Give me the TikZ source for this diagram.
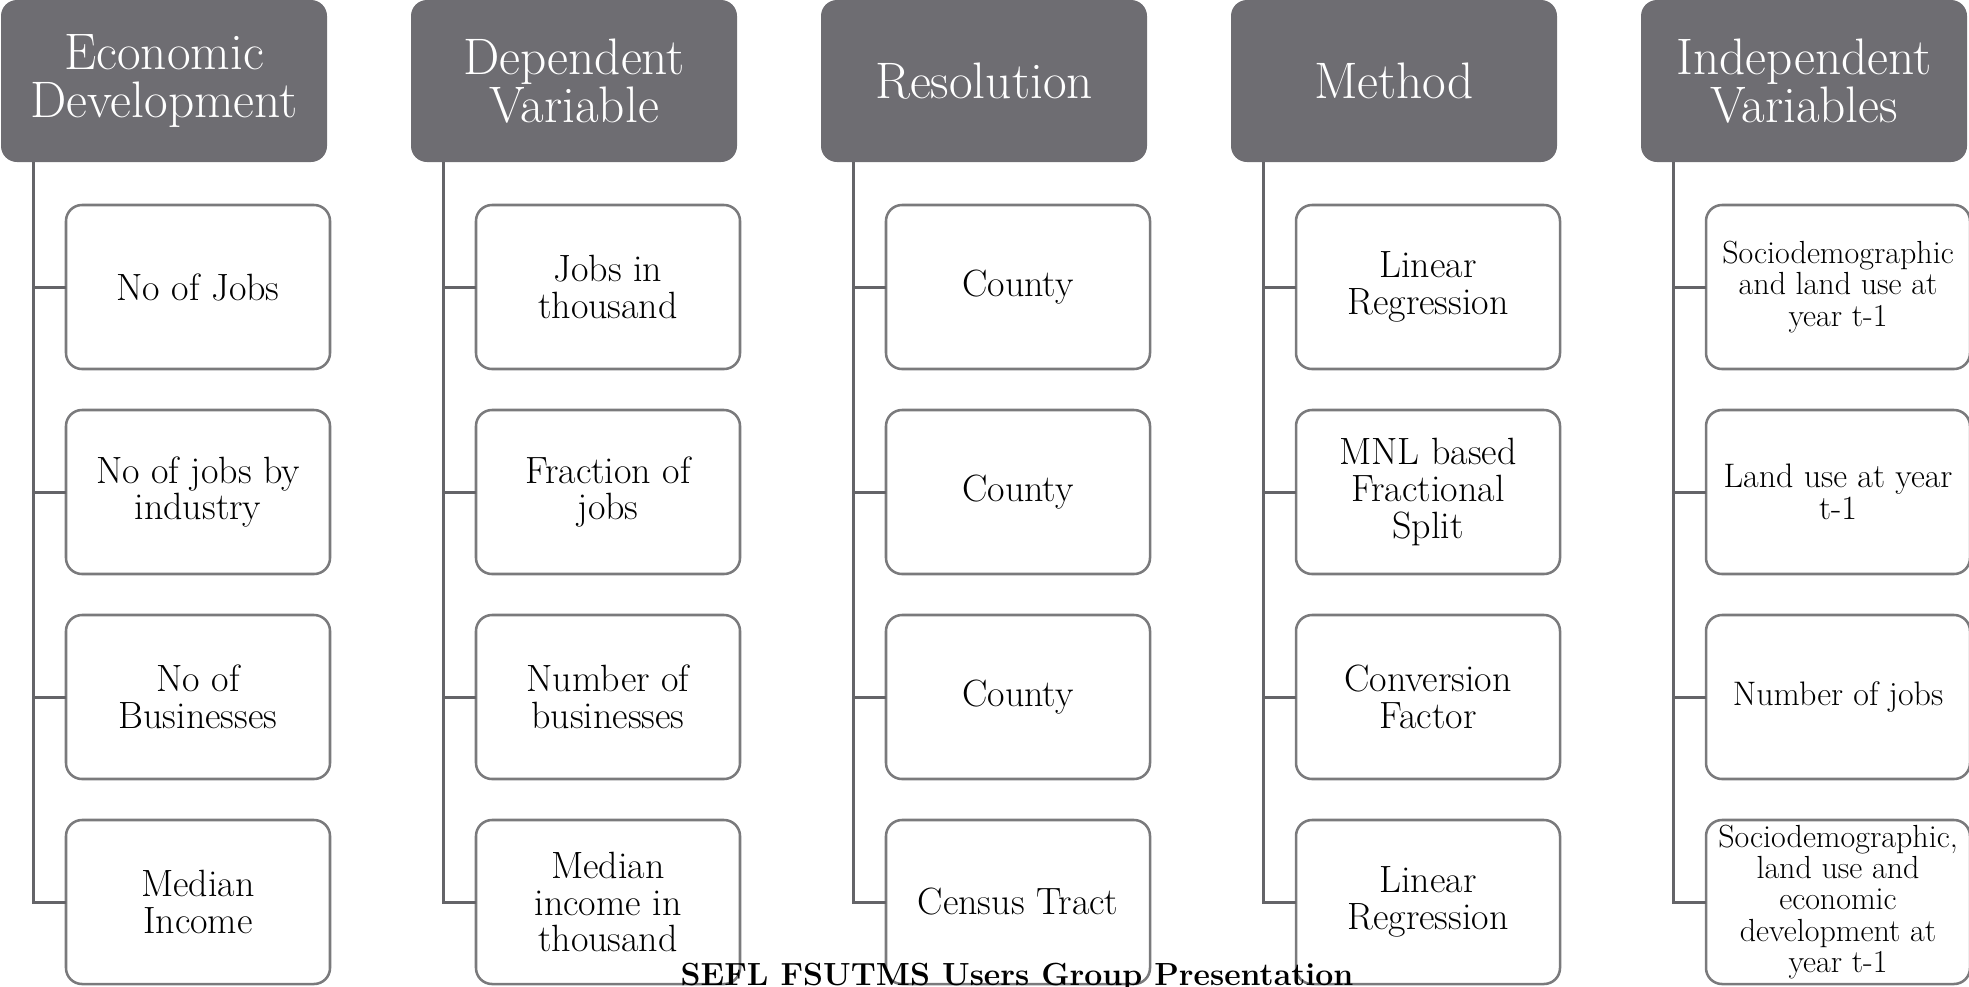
\documentclass[tikz,border=0pt]{standalone}
\usepackage{fontspec}
\begin{document}
\definecolor{hdrgray}{HTML}{6E6D72}
\definecolor{boxgray}{HTML}{7A7A7C}
\definecolor{linegray}{HTML}{646468}
\begin{tikzpicture}[x=0.75pt,y=-0.75pt,
  hdr/.style={fill=hdrgray, rounded corners=12pt, minimum width=244.5pt, minimum height=121.5pt,
    text=white, font=\fontsize{38.5}{36}\selectfont, align=center, inner sep=0pt, outer sep=0pt},
  item/.style={draw=boxgray, line width=1.9pt, fill=white, rounded corners=12pt,
    minimum width=198pt, minimum height=123pt, font=\fontsize{28.5}{27.5}\selectfont,
    align=center, inner sep=0pt, outer sep=0pt},
  itemsm/.style={item, font=\fontsize{24}{23.5}\selectfont},
  itemmd/.style={item, font=\fontsize{25.5}{24}\selectfont},
  conn/.style={draw=linegray, line width=2.25pt}]
\useasboundingbox (0,0) rectangle (1969,986);
\clip (0,0) rectangle (1969,986);

% column 1: Economic Development
\node[hdr] (h1) at (164,81) {Economic\\Development};
\node[item] (a1) at (198,287) {No of Jobs};
\node[item] (a2) at (198,492) {No of jobs by\\industry};
\node[item] (a3) at (198,697) {No of\\Businesses};
\node[item] (a4) at (198,902) {Median\\Income};
\coordinate (t1) at (33.5,162);

% column 2: Dependent Variable
\node[hdr] (h2) at (574,81) {Dependent\\Variable};
\node[item] (b1) at (608,287) {Jobs in\\thousand};
\node[item] (b2) at (608,492) {Fraction of\\jobs};
\node[item] (b3) at (608,697) {Number of\\businesses};
\node[item] (b4) at (608,902) {Median\\income in\\thousand};
\coordinate (t2) at (443.5,162);

% column 3: Resolution
\node[hdr] (h3) at (984,81) {Resolution};
\node[item] (c1) at (1018,287) {County};
\node[item] (c2) at (1018,492) {County};
\node[item] (c3) at (1018,697) {County};
\node[item] (c4) at (1018,902) {Census Tract};
\coordinate (t3) at (853.5,162);

% column 4: Method
\node[hdr] (h4) at (1394,81) {Method};
\node[item] (d1) at (1428,287) {Linear\\Regression};
\node[item] (d2) at (1428,492) {MNL based\\Fractional\\Split};
\node[item] (d3) at (1428,697) {Conversion\\Factor};
\node[item] (d4) at (1428,902) {Linear\\Regression};
\coordinate (t4) at (1263.5,162);

% column 5: Independent Variables
\node[hdr] (h5) at (1804,81) {Independent\\Variables};
\node[itemsm] (e1) at (1838,287) {Sociodemographic\\and land use at\\year t-1};
\node[itemmd] (e2) at (1838,492) {Land use at year\\t-1};
\node[itemmd] (e3) at (1838,697) {Number of jobs};
\node[itemsm] (e4) at (1838,902) {Sociodemographic,\\land use and\\economic\\development at\\year t-1};
\coordinate (t5) at (1673.5,162);

% trunks and branches
\foreach \t/\n in {t1/a, t2/b, t3/c, t4/d, t5/e}{
  \draw[conn] (\t) |- (\n4.west);
  \foreach \i in {1,2,3}{
    \draw[conn] (\n\i.west) -- (\n\i.west -| \t);
  }
}

% footer
\node[anchor=base, inner sep=0pt, font=\bfseries\fontsize{24}{26}\selectfont] (foot) at (1017,985)
  {SEFL FSUTMS Users Group Presentation};
\end{tikzpicture}
\end{document}
